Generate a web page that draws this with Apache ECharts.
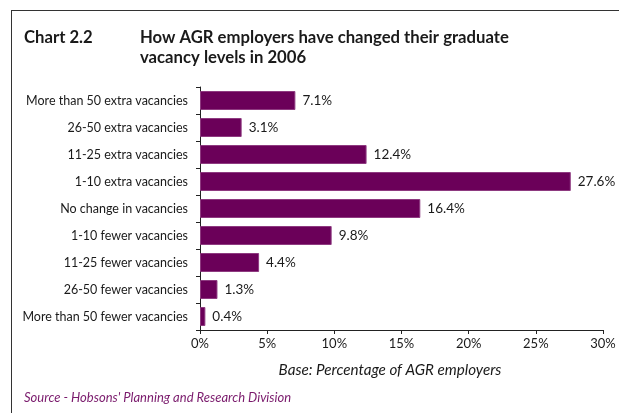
<!DOCTYPE html>
<html>
<head>
<meta charset="utf-8">
<script src="https://cdn.jsdelivr.net/npm/echarts@6/dist/echarts.min.js"></script>
<style>
  html, body { margin: 0; padding: 0; background: #fff; }
  #chart { width: 619px; height: 413px; }
</style>
</head>
<body>
<div id="chart"></div>
<script>
// Change in graduate vacancy levels, top to bottom
const categories = [
  'More than 50 extra vacancies',
  '26-50 extra vacancies',
  '11-25 extra vacancies',
  '1-10 extra vacancies',
  'No change in vacancies',
  '1-10 fewer vacancies',
  '11-25 fewer vacancies',
  '26-50 fewer vacancies',
  'More than 50 fewer vacancies'
];
const shares = [7.1, 3.1, 12.4, 27.6, 16.4, 9.8, 4.4, 1.3, 0.4];
const xTicks = [0, 5, 10, 15, 20, 25, 30];

const FONT = 'Lato, "Open Sans", sans-serif';
const PURPLE = '#6b0059';

const chart = echarts.init(document.getElementById('chart'), null, { renderer: 'canvas' });

chart.setOption({
  backgroundColor: '#ffffff',
  animation: false,
  title: [
    {
      text: 'Chart 2.2',
      left: 24, top: 28, padding: 0,
      textStyle: { fontFamily: FONT, fontSize: 16.7, fontWeight: 'bold', color: '#1a1a1a', lineHeight: 20 }
    },
    {
      text: 'How AGR employers have changed their graduate\nvacancy levels in 2006',
      left: 140, top: 28, padding: 0,
      textStyle: { fontFamily: FONT, fontSize: 16.7, fontWeight: 'bold', color: '#1a1a1a', lineHeight: 20 }
    }
  ],
  grid: { left: 200, right: 16, top: 87, bottom: 83, containLabel: false },
  xAxis: {
    type: 'value',
    min: xTicks[0],
    max: xTicks[xTicks.length - 1],
    interval: 5,
    name: 'Base: Percentage of AGR employers',
    nameLocation: 'middle',
    nameGap: 33,
    nameTextStyle: {
      fontFamily: FONT, fontSize: 15.2, fontStyle: 'italic', color: '#1a1a1a',
      padding: [0, 23, 0, 0]
    },
    axisLine: { show: true, lineStyle: { color: '#222', width: 1 } },
    axisTick: { show: true, length: 4, lineStyle: { color: '#222' } },
    splitLine: { show: false },
    axisLabel: {
      fontFamily: FONT, fontSize: 13, color: '#1a1a1a', margin: 7,
      formatter: v => v + '%'
    }
  },
  yAxis: {
    type: 'category',
    data: categories,
    inverse: true,
    axisLine: { show: true, lineStyle: { color: '#222', width: 1 } },
    axisTick: { show: true, length: 4, inside: false, lineStyle: { color: '#222' } },
    axisLabel: { fontFamily: FONT, fontSize: 12.5, color: '#1a1a1a', margin: 12 }
  },
  series: [{
    type: 'bar',
    data: shares,
    barWidth: 19,
    itemStyle: { color: PURPLE, borderColor: '#8e3a80', borderWidth: 1 },
    label: {
      show: true,
      position: 'right',
      distance: 7,
      fontFamily: FONT, fontSize: 13.5, color: '#1a1a1a',
      formatter: p => p.value.toFixed(1) + '%'
    }
  }],
  graphic: [
    { type: 'line', shape: { x1: 11, y1: 10.5, x2: 619, y2: 10.5 }, style: { stroke: '#333', lineWidth: 1 } },
    { type: 'line', shape: { x1: 11.5, y1: 10, x2: 11.5, y2: 413 }, style: { stroke: '#333', lineWidth: 1 } },
    {
      type: 'text', left: 24, top: 391,
      style: { text: "Source - Hobsons' Planning and Research Division", fontFamily: FONT, fontSize: 13, fontStyle: 'italic', fill: '#7a1a6c' }
    }
  ]
});
</script>
</body>
</html>
